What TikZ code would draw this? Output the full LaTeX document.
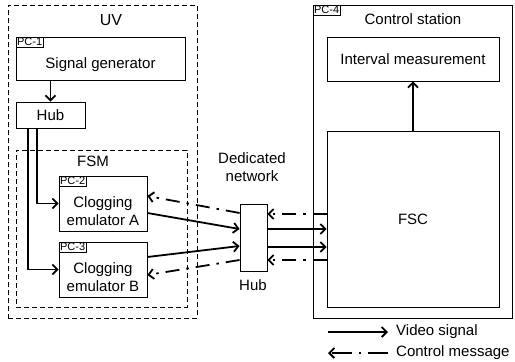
\documentclass[tikz,border=0pt]{standalone}
\usepackage{fontspec}
\setmainfont{Liberation Sans}
\usetikzlibrary{arrows.meta}
\begin{document}
\begin{tikzpicture}[x=1pt,y=-1pt,
  box/.style={draw, line width=0.8pt, inner sep=0pt, rectangle},
  dbox/.style={draw, line width=0.8pt, inner sep=0pt, rectangle, dash pattern=on 5pt off 3pt},
  tag/.style={draw, line width=0.6pt, inner sep=1.2pt, font=\fontsize{11}{12}\selectfont, anchor=north west},
  txt/.style={inner sep=0pt, font=\fontsize{15}{18}\selectfont, align=center},
  vid/.style={line width=1.8pt, -{Straight Barb[length=5pt,width=10pt]}},
  ctl/.style={line width=1.8pt, dash pattern=on 14pt off 7pt on 2.5pt off 7pt, -{Straight Barb[length=5pt,width=10pt]}},
  plain/.style={line width=1.8pt}
]
\useasboundingbox (0,0) rectangle (515,362);
% UV
\node[dbox, minimum width=189pt, minimum height=313pt] (uv) at (102.5,161.5) {};
\node[txt, font=\fontsize{16}{18}\selectfont] (uvt) at (111,20) {UV};
\node[box, minimum width=169pt, minimum height=43pt] (sg) at (100.5,58.5) {};
\node[tag] (pc1) at (sg.north west) {PC-1};
\node[txt] (sgt) at (100.5,65) {Signal generator};
\node[box, minimum width=69pt, minimum height=26pt] (hub1) at (50.5,115) {};
\node[txt] (hub1t) at (hub1) {Hub};
% FSM
\node[dbox, minimum width=171pt, minimum height=157pt] (fsm) at (101.5,228.5) {};
\node[txt] (fsmt) at (93,161) {FSM};
\node[box, minimum width=88pt, minimum height=55pt] (ceA) at (103,203.5) {};
\node[tag] (pc2) at (ceA.north west) {PC-2};
\node[txt] (ceAt) at (103,211) {Clogging\\emulator A};
\node[box, minimum width=88pt, minimum height=55pt] (ceB) at (103,269.5) {};
\node[tag] (pc3) at (ceB.north west) {PC-3};
\node[txt] (ceBt) at (103,277) {Clogging\\emulator B};
% network hub
\node[box, minimum width=27pt, minimum height=67pt] (hub2) at (253.5,237.5) {};
\node[txt] (hub2t) at (253,285) {Hub};
\node[txt] (dn) at (252,167) {Dedicated\\network};
% control station
\node[box, minimum width=199pt, minimum height=313pt] (cs) at (412.5,161.5) {};
\node[tag] (pc4) at (cs.north west) {PC-4};
\node[txt] (cst) at (413,19) {Control station};
\node[box, minimum width=172pt, minimum height=44pt] (im) at (413,59) {};
\node[txt] (imt) at (im) {Interval measurement};
\node[box, minimum width=172pt, minimum height=176pt] (fsc) at (413,219) {};
\node[txt] (fsct) at (fsc) {FSC};
% connectors
\draw[vid] (hub1.north |- sg.south) -- (hub1.north);
\draw[vid] ([xshift=-13.5pt]hub1.south) |- (ceA.west);
\draw[vid] ([xshift=-22.5pt]hub1.south) |- (ceB.west);
\draw[vid] ([yshift=-9.5pt]ceA.east) -- ([yshift=8.5pt]hub2.west);
\draw[ctl] ([yshift=24.5pt]hub2.west) -- ([yshift=7.5pt]ceA.east);
\draw[vid] ([yshift=12.5pt]ceB.east) -- ([yshift=-8.5pt]hub2.west);
\draw[ctl] ([yshift=-22.5pt]hub2.west) -- ([yshift=-5.5pt]ceB.east);
\coordinate (h1) at ([yshift=23.5pt]hub2.east);
\coordinate (h2) at ([yshift=8.5pt]hub2.east);
\coordinate (h3) at ([yshift=-9.5pt]hub2.east);
\coordinate (h4) at ([yshift=-22.5pt]hub2.east);
\draw[ctl] (h1 -| fsc.west) -- (h1);
\draw[vid] (h2) -- (h2 -| fsc.west);
\draw[vid] (h3) -- (h3 -| fsc.west);
\draw[ctl] (h4 -| fsc.west) -- (h4);
\draw[vid] (fsc.north) -- (im.south);
% legend
\coordinate (l1a) at (328,332);
\coordinate (l1b) at (388,332);
\coordinate (l2a) at (328,353);
\coordinate (l2b) at (388,353);
\draw[vid] (l1a) -- (l1b);
\draw[ctl, dash pattern=on 20pt off 7pt on 2.5pt off 7pt] (l2b) -- (l2a);
\node[txt, anchor=west] (lt1) at (396,332) {Video signal};
\node[txt, anchor=west] (lt2) at (396,353) {Control message};
\end{tikzpicture}
\end{document}
